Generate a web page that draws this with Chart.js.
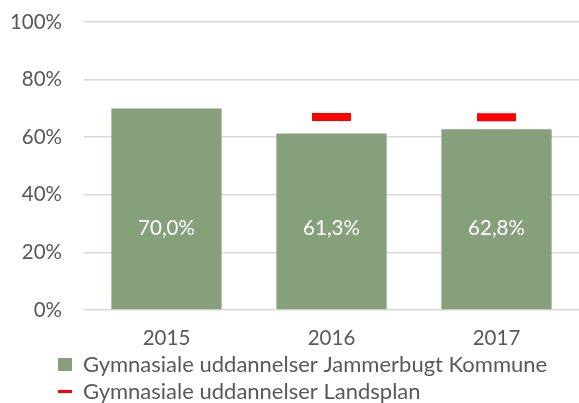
<!DOCTYPE html>
<html>
<head>
<meta charset="utf-8">
<script src="https://cdn.jsdelivr.net/npm/chart.js@4/dist/chart.umd.min.js"></script>
<style>
  html, body { margin: 0; padding: 0; background: #ffffff; }
  #wrap { width: 579px; height: 403px; }
</style>
</head>
<body>
<div id="wrap"><canvas id="c" width="579" height="403"></canvas></div>
<script>
// ---- data ----
const categories = ['2015', '2016', '2017'];
const kommuneValues = [70.0, 61.3, 62.8];
const landsplanValues = [null, 67.0, 66.9];
const seriesNames = ['Gymnasiale uddannelser Jammerbugt Kommune', 'Gymnasiale uddannelser Landsplan'];
const yTickValues = [0, 20, 40, 60, 80, 100];

// ---- styles ----
const GREEN = '#85A07A';
const RED = '#FF0000';
const TEXT = '#595959';
const GRID = '#D9D9D9';
const FONT = 'Lato';
const FS = 20.5;
const LFS = 22;

const dataLabelPlugin = {
  id: 'dataLabels',
  afterDatasetsDraw(chart) {
    const ctx = chart.ctx;
    const meta = chart.getDatasetMeta(0);
    const yScale = chart.scales.y;
    ctx.save();
    ctx.fillStyle = '#ffffff';
    ctx.font = FS + 'px ' + FONT;
    ctx.textAlign = 'center';
    ctx.textBaseline = 'middle';
    meta.data.forEach((bar, i) => {
      const v = kommuneValues[i];
      const txt = v.toFixed(1).replace('.', ',') + '%';
      ctx.fillText(txt, bar.x, yScale.getPixelForValue(28.3));
    });
    ctx.restore();
  }
};

const legendPlacePlugin = {
  id: 'legendPlace',
  afterLayout(chart) {
    const lg = chart.legend;
    if (!lg) return;
    lg.left = 58 - lg.options.labels.padding;
    lg.top = 348.5;
  }
};

function zeroPadding(scale) {
  scale.paddingTop = 0;
  scale.paddingBottom = 0;
  scale.paddingLeft = 0;
  scale.paddingRight = 0;
}

new Chart(document.getElementById('c'), {
  type: 'bar',
  data: {
    labels: categories,
    datasets: [
      {
        type: 'bar',
        label: seriesNames[0],
        data: kommuneValues,
        backgroundColor: GREEN,
        categoryPercentage: 1.0,
        barPercentage: 0.668,
        order: 2
      },
      {
        type: 'line',
        label: seriesNames[1],
        data: landsplanValues,
        showLine: false,
        pointStyle: 'line',
        pointRadius: 19.5,
        pointHoverRadius: 19.5,
        pointBorderWidth: 8,
        pointHoverBorderWidth: 8,
        borderColor: RED,
        backgroundColor: RED,
        order: 1
      }
    ]
  },
  options: {
    responsive: false,
    animation: false,
    events: [],
    layout: { autoPadding: false, padding: { top: 22, right: 0, left: 0, bottom: 0 } },
    scales: {
      x: {
        grid: { display: false, drawTicks: false },
        border: { display: false },
        ticks: { color: TEXT, font: { family: FONT, size: FS }, padding: 16 },
        afterFit(scale) { scale.height = 45; zeroPadding(scale); }
      },
      y: {
        min: 0,
        max: 100,
        afterBuildTicks(scale) { scale.ticks = yTickValues.map(v => ({ value: v })); },
        ticks: {
          color: TEXT,
          font: { family: FONT, size: FS },
          padding: 22,
          callback: (v) => v + '%'
        },
        grid: { color: GRID, lineWidth: 1.5, drawTicks: false },
        border: { display: false },
        afterFit(scale) { scale.width = 84; zeroPadding(scale); }
      }
    },
    plugins: {
      tooltip: { enabled: false },
      legend: {
        position: 'bottom',
        align: 'start',
        maxHeight: 48,
        labels: {
          color: TEXT,
          font: { family: FONT, size: LFS },
          padding: 5,
          usePointStyle: true,
          boxHeight: 13,
          pointStyleWidth: 14,
          generateLabels: () => [
            { text: seriesNames[0], fillStyle: GREEN, strokeStyle: GREEN, lineWidth: 0, pointStyle: 'rect', datasetIndex: 0, hidden: false, fontColor: TEXT },
            { text: seriesNames[1], fillStyle: RED, strokeStyle: RED, lineWidth: 3, pointStyle: 'line', datasetIndex: 1, hidden: false, fontColor: TEXT }
          ]
        }
      }
    }
  },
  plugins: [dataLabelPlugin, legendPlacePlugin]
});
</script>
</body>
</html>
